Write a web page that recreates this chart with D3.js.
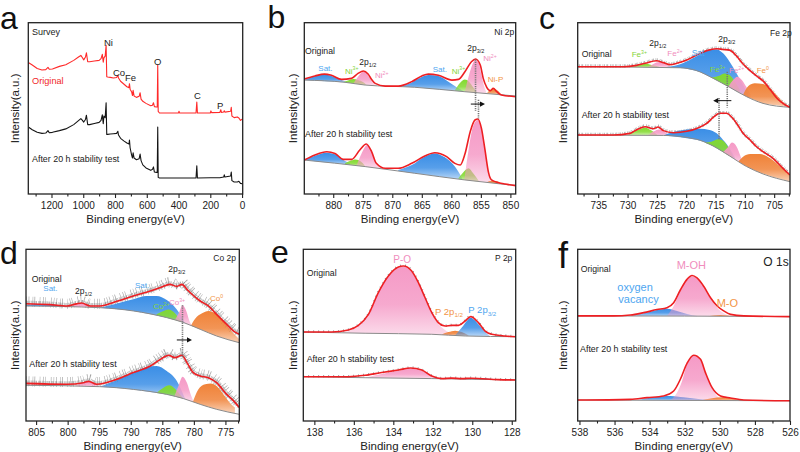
<!DOCTYPE html>
<html><head><meta charset="utf-8">
<script src="https://cdn.jsdelivr.net/npm/d3@7"></script>
<style>body{margin:0;background:#fff} svg{display:block} text{font-family:"Liberation Sans",Arial,sans-serif}</style>
</head><body><svg id="c" width="800" height="452"></svg>
<script>
// ---------------- DATA ----------------
// Panel a: survey [binding energy eV, intensity a.u.]
const surveyOriginal = [[1346,76.8],[1321,75.3],[1290,73.3],[1260,72.4],[1236,72.6],[1222,73.9],[1214,72.8],[1194,73.0],[1150,74.5],[1110,75.5],[1060,78.0],[1030,80.0],[1015,80.9],[1005,79.5],[997,78.3],[986,80.0],[980,82.4],[972,77.2],[960,77.2],[930,77.6],[900,78.0],[888,79.0],[880,81.5],[874,77.0],[870,79.5],[862,80.5],[856,86.8],[852,68.5],[846,68.3],[830,68.1],[810,67.7],[790,68.0],[782,69.3],[778,67.7],[765,65.8],[745,64.2],[725,62.6],[712,62.1],[709,64.4],[705,61.2],[695,59.5],[690,57.5],[686,60.5],[680,57.2],[665,56.4],[648,57.0],[642,59.1],[636,55.4],[625,54.1],[605,52.9],[575,51.5],[564,51.8],[558,53.3],[552,51.0],[540,50.8],[534,50.8],[531,75.3],[528,48.2],[520,47.3],[400,47.3],[397,48.3],[394,47.3],[290,47.3],[285,53.7],[281,47.3],[200,47.3],[196,48.5],[192,47.5],[140,47.6],[134,49.2],[130,47.6],[116,47.9],[112,48.6],[108,47.8],[72,48.3],[68,50.6],[64,45.5],[50,44.6],[30,45.0],[20,44.4],[10,43.0],[0,43.6],[-4,43.2]];
const surveyAfter = [[1346,39.1],[1321,37.5],[1290,36.0],[1260,35.4],[1236,35.6],[1222,37.0],[1214,35.8],[1194,36.0],[1150,37.0],[1110,38.0],[1060,40.5],[1030,42.8],[1015,44.0],[1005,43.0],[997,42.0],[986,43.5],[980,46.0],[972,40.5],[960,40.5],[930,41.2],[900,41.8],[888,43.0],[880,46.2],[874,41.0],[870,45.5],[862,44.5],[856,53.3],[852,34.8],[846,34.8],[830,35.0],[810,35.2],[790,35.4],[782,36.6],[778,34.4],[765,32.5],[745,31.0],[725,29.8],[712,29.2],[709,31.5],[705,27.0],[695,22.5],[690,21.0],[686,24.0],[680,21.0],[665,20.0],[648,20.6],[642,23.3],[636,19.5],[625,17.0],[605,15.2],[575,13.8],[564,14.4],[558,15.8],[552,12.8],[540,12.6],[534,12.6],[531,39.1],[528,9.7],[520,9.3],[400,9.3],[290,9.3],[285,16.5],[281,9.3],[200,9.5],[140,9.5],[116,9.9],[112,11.2],[108,9.9],[72,10.5],[68,12.8],[64,7.8],[50,7.0],[30,7.0],[20,7.4],[10,6.2],[0,6.0],[-4,5.8]];

// Panel b: Ni 2p
const niOrigBg = [[884.9,66.5],[878.0,65.2],[874.6,63.6],[866.2,62.3],[857.7,59.7],[849.1,57.2]];
const niOrigEnv = [[884.9,67.1],[883.1,68.9],[881.5,70.0],[880.3,69.3],[878.6,66.9],[876.9,67.5],[875.8,70.4],[874.9,71.8],[874.1,70.0],[873.5,66.9],[872.9,64.6],[871.2,63.0],[869.0,63.0],[866.7,65.6],[865.0,68.9],[863.9,70.0],[862.2,69.3],[859.9,66.5],[858.8,66.9],[857.7,71.4],[856.6,77.2],[855.9,78.8],[855.1,75.3],[854.6,67.5],[854.0,62.3],[853.4,60.3],[852.9,61.7],[852.3,59.7],[851.5,57.8],[849.1,56.8]];
const niOrigComps = [
 ["Sat", [[884.9,66.5],[883.7,68.1],[882.5,69.3],[881.5,69.6],[880.3,68.9],[879.2,67.3],[878.0,65.8],[877.2,65.0]]],
 ["Ni3+", [[878.3,65.3],[877.5,66.3],[876.6,67.1],[875.8,66.5],[874.9,65.2],[874.4,63.8]]],
 ["Ni2+", [[876.6,64.5],[875.8,68.5],[874.9,71.4],[874.4,70.8],[873.8,67.5],[873.2,64.6],[872.7,63.3]]],
 ["Sat", [[869.0,62.8],[867.3,64.2],[865.6,67.3],[863.9,69.5],[862.2,68.9],[860.5,65.6],[859.1,62.3],[858.0,60.2]]],
 ["Ni3+", [[859.4,60.5],[858.5,65.0],[857.7,66.9],[857.0,65.6],[856.3,62.3],[855.7,59.3]]],
 ["Ni2+", [[857.7,59.9],[857.0,69.5],[856.4,75.9],[855.9,78.2],[855.3,75.9],[854.9,69.5],[854.4,62.3],[854.0,58.8]]],
 ["Ni-P", [[854.0,58.6],[853.6,60.3],[852.9,61.5],[852.1,60.3],[851.5,57.9]]]
];
const niAfterBg = [[884.9,19.8],[874.6,16.0],[866.2,12.1],[857.7,8.2],[852.0,6.0],[849.1,5.0]];
const niAfterEnv = [[884.9,19.8],[883.1,22.8],[881.1,24.7],[879.7,23.7],[878.3,20.2],[876.9,20.2],[875.5,25.7],[874.4,29.2],[873.5,24.7],[872.7,17.9],[871.2,15.0],[869.0,15.0],[866.7,17.9],[864.5,22.2],[862.8,24.1],[860.8,21.8],[859.4,17.9],[858.5,16.9],[857.7,23.3],[856.8,36.4],[856.0,43.2],[855.5,43.8],[854.9,38.3],[854.3,25.7],[853.7,12.5],[853.2,8.2],[852.0,6.6],[850.9,5.8],[849.1,4.9]];
const niAfterComps = [
 ["Sat", [[884.9,19.8],[883.1,22.4],[881.1,24.1],[879.7,23.2],[878.3,19.8],[877.2,17.9]]],
 ["Ni3+", [[878.0,18.0],[877.0,19.5],[876.2,20.2],[875.3,18.9],[874.6,16.2]]],
 ["Ni2+", [[876.0,17.2],[875.2,23.7],[874.2,28.8],[873.5,24.7],[872.8,18.9],[872.1,15.6]]],
 ["Sat", [[869.0,14.0],[866.7,16.9],[864.5,21.8],[862.8,23.7],[861.1,21.4],[859.4,16.0],[858.2,9.4]]],
 ["Ni3+", [[858.8,9.2],[858.0,12.5],[857.1,15.0],[856.3,12.1],[855.4,7.9]]],
 ["Ni2+", [[857.8,8.3],[857.0,27.6],[856.3,39.7],[855.5,43.2],[854.9,38.3],[854.3,25.7],[853.7,12.1],[853.3,7.2]]],
 ["Ni-P", [[854.0,6.9],[853.2,7.6],[852.5,7.6],[851.5,6.0]]]
];
const niGuides = [[855.9,78.5,48.5],[855.4,55.0,43.5]];
const niArrow = [856.7,854.3,52.5];

// Panel c: Fe 2p
const feOrigBg = [[738.5,74.3],[721.1,73.7],[718.2,72.0],[715.4,67.5],[712.6,62.3],[709.7,56.8],[706.9,52.9],[702.3,50.6]];
const feOrigEnv = [[738.5,74.3],[730.7,74.3],[728.5,75.1],[727.0,76.3],[725.1,77.8],[723.9,76.7],[722.8,75.5],[721.6,76.3],[719.9,78.2],[718.2,81.1],[716.5,83.7],[714.8,84.8],[713.7,84.4],[712.6,84.0],[711.4,80.5],[710.3,75.9],[709.1,72.0],[708.0,68.9],[706.9,66.0],[705.7,61.1],[704.6,56.2],[703.5,52.9],[702.3,50.6]];
const feOrigComps = [
 ["Fe3+", [[729.6,74.2],[728.2,75.3],[726.8,76.1],[725.6,75.1],[724.5,74.1]]],
 ["Fe2+", [[726.5,74.1],[725.6,75.9],[724.6,77.0],[723.6,75.7],[722.5,74.0]]],
 ["Sat", [[723.9,73.9],[721.6,75.1],[719.4,78.2],[717.7,81.5],[716.0,84.0],[714.8,84.4],[713.7,82.1],[712.6,77.2],[711.4,70.4],[710.3,63.6],[709.4,58.2]]],
 ["Fe3+", [[715.7,68.0],[714.5,68.9],[713.4,70.4],[712.6,69.5],[711.7,65.6],[710.9,61.1]]],
 ["Fe2+", [[712.8,62.7],[712.0,66.5],[711.3,68.5],[710.6,66.9],[709.7,62.3],[709.0,57.8]]],
 ["Fe0", [[710.3,58.0],[709.4,63.0],[708.3,64.6],[706.9,64.2],[705.7,61.7],[704.6,57.8],[703.5,53.9],[702.3,51.0]]]
];
const feAfterBg = [[738.5,34.4],[723.9,34.2],[718.2,31.9],[715.4,28.0],[712.6,22.2],[709.7,16.0],[706.9,11.7],[702.3,7.2]];
const feAfterEnv = [[738.5,34.4],[732.4,34.4],[729.6,35.4],[728.5,37.4],[727.0,39.3],[725.6,38.1],[724.8,39.1],[723.9,37.0],[722.2,35.8],[719.9,36.6],[718.2,38.3],[716.5,41.2],[715.4,44.7],[714.3,47.1],[713.1,47.1],[712.3,45.1],[711.4,41.2],[710.3,35.4],[709.1,31.5],[708.0,27.6],[706.9,24.7],[705.2,20.8],[703.5,15.0],[702.3,11.1]];
const feAfterComps = [
 ["Fe3+", [[729.9,34.4],[728.5,37.0],[727.0,38.7],[725.9,37.0],[724.8,34.2]]],
 ["Fe2+", [[726.5,34.2],[725.5,36.6],[724.6,37.7],[723.6,36.2],[722.8,34.1]]],
 ["Sat", [[723.9,34.2],[722.2,36.2],[719.9,37.7],[717.7,38.1],[716.0,37.4],[714.8,35.4],[713.7,31.5],[712.6,26.7],[711.7,21.2]]],
 ["Fe3+", [[716.8,30.0],[715.7,30.5],[714.5,31.9],[713.4,30.0],[712.6,25.7],[711.9,20.8]]],
 ["Fe2+", [[713.7,24.5],[712.8,27.6],[712.2,30.0],[711.4,27.6],[710.7,21.8],[710.2,17.0]]],
 ["Fe0", [[711.1,19.0],[710.3,21.8],[709.1,23.3],[707.4,23.3],[705.7,20.8],[704.0,16.0],[702.3,11.1]]]
];
const feGuides = [[713.0,71.4,50.5],[714.4,56.0,31.5]];
const feArrow = [712.3,715.4,54.5];

// Panel d: Co 2p
const coOrigBg = [[806.6,67.0],[794.9,66.0],[789.6,64.1],[784.3,60.2],[781.6,57.3],[779.0,53.4],[776.4,49.5],[772.8,45.6]];
const coOrigEnv = [[806.6,68.3],[802.8,67.8],[800.1,67.0],[798.6,68.2],[797.8,68.7],[796.4,67.0],[794.9,67.0],[792.2,69.7],[789.6,72.8],[786.9,75.7],[785.3,77.7],[783.8,79.6],[782.7,78.4],[781.9,79.6],[781.1,76.7],[780.3,73.8],[779.0,69.9],[777.7,67.0],[776.4,62.1],[774.8,56.3],[773.7,52.4],[772.8,50.5]];
const coOrigComps = [
 ["Sat", [[806.6,67.4],[804.4,68.2],[802.3,67.8],[800.1,66.6]]],
 ["Co3+", [[799.6,66.4],[798.6,67.8],[797.8,68.5],[796.7,67.4],[795.6,66.2]]],
 ["Sat", [[794.9,66.0],[792.2,68.5],[789.6,70.9],[787.5,72.8],[785.9,72.8],[784.3,70.5],[782.7,65.0],[781.4,57.0]]],
 ["Co2+", [[785.9,62.2],[784.8,64.1],[784.0,65.0],[783.2,63.5],[782.2,59.2],[781.6,57.3]]],
 ["Co3+", [[783.0,58.8],[782.3,63.5],[781.8,67.4],[781.2,64.1],[780.7,58.3],[780.2,55.3]]],
 ["Co0", [[780.5,55.4],[779.8,59.6],[778.7,62.7],[777.7,64.1],[776.6,62.7],[775.6,59.2],[774.3,53.4],[772.8,47.6]]]
];
const coAfterBg = [[806.6,20.8],[794.9,20.0],[789.6,18.4],[784.3,15.5],[781.6,13.0],[779.0,9.7],[776.4,6.8],[772.8,3.9]];
const coAfterEnv = [[806.6,21.9],[800.1,21.4],[797.5,22.3],[796.7,23.1],[795.4,21.4],[792.2,24.3],[789.6,28.2],[786.9,32.0],[785.3,35.9],[784.0,38.3],[783.0,36.9],[781.9,38.3],[781.1,34.0],[780.1,28.2],[779.0,26.2],[777.7,25.2],[776.4,22.3],[774.8,15.5],[773.7,11.7],[772.8,7.8]];
const coAfterComps = [
 ["Co3+", [[798.8,20.4],[797.8,21.9],[796.7,22.7],[795.8,21.7],[794.9,20.0]]],
 ["Sat", [[794.9,20.0],[792.2,23.9],[789.6,28.2],[787.5,31.3],[785.9,32.0],[784.3,29.1],[782.7,23.3],[781.4,13.0]]],
 ["Co2+", [[785.9,16.4],[784.8,19.4],[783.9,20.8],[783.0,18.8],[782.2,15.5],[781.6,13.0]]],
 ["Co3+", [[783.1,14.2],[782.4,20.8],[781.8,25.8],[781.1,22.3],[780.5,15.5],[780.0,11.1]]],
 ["Co0", [[780.2,10.8],[779.3,18.4],[778.2,21.4],[777.3,21.9],[776.4,20.4],[775.3,15.5],[774.3,10.7],[773.5,7.8]]]
];
const coGuides = [[781.8,67.4,37.0]];
const coArrow = [782.7,780.3,47.2];

// Panel e: P 2p
const pOrigBg = [[138.56,51.8],[135.43,51.1],[132.05,50.5],[130.36,49.5],[127.8,49.1]];
const pOrigEnv = [[138.56,51.8],[137.12,51.8],[136.28,53.0],[135.77,55.7],[135.26,62.1],[134.76,74.8],[134.25,84.5],[133.74,89.7],[133.49,90.3],[133.07,87.4],[132.73,80.6],[132.39,71.8],[132.05,63.1],[131.72,57.3],[131.38,55.3],[131.04,55.7],[130.70,55.7],[130.36,58.3],[130.08,60.8],[129.69,57.3],[129.35,52.4],[129.01,50.5],[128.34,49.5],[127.8,49.1]];
const pOrigComps = [
 ["P-O", [[136.61,51.5],[135.77,55.3],[135.26,61.9],[134.76,74.4],[134.25,84.1],[133.74,89.3],[133.49,89.9],[133.07,86.8],[132.73,80.2],[132.39,71.3],[132.05,62.7],[131.72,56.7],[131.38,53.0],[131.04,50.9]]],
 ["P 2p1/2", [[131.55,50.4],[131.21,51.8],[130.87,52.6],[130.53,51.8],[130.20,49.9]]],
 ["P 2p3/2", [[130.87,50.0],[130.53,54.4],[130.28,58.3],[130.08,60.2],[129.86,58.6],[129.61,55.3],[129.35,51.8],[129.10,49.4]]]
];
const pAfterBg = [[138.56,25.8],[135.43,25.2],[132.05,24.7],[127.8,23.9]];
const pAfterEnv = [[138.56,25.8],[136.28,25.8],[135.43,26.6],[134.59,28.2],[133.74,29.7],[133.12,30.9],[132.56,29.7],[132.05,26.2],[131.55,24.7],[131.04,25.0],[130.53,24.7],[130.03,24.9],[128.68,24.1],[127.8,23.9]];
const pAfterComps = [
 ["P-O", [[135.43,25.2],[134.59,27.4],[133.74,29.3],[133.12,30.5],[132.56,29.3],[132.05,26.2],[131.55,24.6]]],
 ["P 2p1/2", [[131.38,24.5],[130.87,25.0],[130.36,24.4]]],
 ["P 2p3/2", [[131.04,24.5],[130.36,24.9],[129.69,24.9],[128.68,24.1]]]
];

// Panel f: O 1s
const oOrigBg = [[538.1,61.2],[532.0,61.1],[526.0,60.8]];
const oOrigEnv = [[538.1,61.2],[536.06,61.2],[535.10,61.7],[534.34,63.1],[533.58,64.9],[533.01,66.0],[532.63,68.9],[532.25,76.3],[531.87,82.5],[531.58,84.7],[531.30,83.3],[530.91,78.3],[530.53,71.8],[530.15,67.0],[529.77,64.1],[529.39,62.1],[528.63,61.2],[526.0,60.8]];
const oOrigComps = [
 ["oxygen vacancy", [[535.10,61.2],[534.34,62.7],[533.58,64.7],[533.01,65.4],[532.44,64.1],[531.87,62.3],[531.30,61.1]]],
 ["M-OH", [[533.01,61.2],[532.63,67.0],[532.25,75.7],[531.87,82.1],[531.58,84.1],[531.30,82.9],[530.91,77.7],[530.53,71.3],[530.15,66.0],[529.77,62.7],[529.39,61.0]]],
 ["M-O", [[530.72,61.0],[529.96,61.7],[529.20,61.0]]]
];
const oAfterBg = [[538.1,12.2],[526.0,11.8]];
const oAfterEnv = [[538.1,12.2],[535.10,12.6],[534.15,13.6],[533.20,14.6],[532.63,17.5],[532.25,24.3],[531.87,33.6],[531.49,38.3],[531.10,35.9],[530.82,28.2],[530.44,19.4],[529.96,14.6],[529.39,13.4],[528.63,12.2],[526.0,11.8]];
const oAfterComps = [
 ["oxygen vacancy", [[534.72,12.1],[533.77,13.8],[532.82,14.6],[532.06,13.8],[531.10,12.6],[530.53,12.0]]],
 ["M-OH", [[532.82,12.1],[532.44,16.5],[532.15,23.3],[531.87,33.0],[531.49,37.9],[531.10,35.5],[530.82,27.8],[530.44,18.8],[530.06,13.6],[529.77,12.0]]],
 ["M-O", [[531.10,12.0],[530.44,13.2],[529.87,13.8],[529.20,13.0],[528.63,11.9]]]
];

// Tick values
const ticksA = [1200,1000,800,600,400,200,0], minorA = [1300,1100,900,700,500,300,100];
const ticksB = [880,875,870,865,860,855,850], minorB = [882.5,877.5,872.5,867.5,862.5,857.5,852.5];
const ticksC = [735,730,725,720,715,710,705], minorC = [737.5,732.5,727.5,722.5,717.5,712.5,707.5,702.5];
const ticksD = [805,800,795,790,785,780,775], minorD = [802.5,797.5,792.5,787.5,782.5,777.5,773];
const ticksE = [138,136,134,132,130,128], minorE = [137,135,133,131,129];
const ticksF = [538,536,534,532,530,528,526], minorF = [537,535,533,531,529,527];

// ---------------- DRAWING ----------------
const svg = d3.select('#c');
const defs = svg.append('defs');
const FILL = {blue:'#3a8ee6', green:'#82d92e', pink:'#f59ac6', orange:'#f08238'};
const TXT = {k:'#222', blue:'#4ea6f0', green:'#86d43a', pink:'#f08dbd', orange:'#f29446', red:'#f0282a'};
const KIND = {"Sat":"blue","Ni3+":"green","Ni2+":"pink","Ni-P":"orange","Fe3+":"green","Fe2+":"pink","Fe0":"orange",
  "Co2+":"green","Co3+":"pink","Co0":"orange","P-O":"pink","P 2p1/2":"orange","P 2p3/2":"blue",
  "oxygen vacancy":"blue","M-OH":"pink","M-O":"orange"};
let gid = 0;
function grad(color){
  const id = 'gr'+(gid++);
  const lg = defs.append('linearGradient').attr('id',id).attr('x1',0).attr('y1',0).attr('x2',0).attr('y2',1);
  lg.append('stop').attr('offset','0%').attr('stop-color',color).attr('stop-opacity',1);
  lg.append('stop').attr('offset','55%').attr('stop-color',color).attr('stop-opacity',0.85);
  lg.append('stop').attr('offset','100%').attr('stop-color',color).attr('stop-opacity',0.35);
  return `url(#${id})`;
}
function bgAt(bg,E){
  for(let i=0;i<bg.length-1;i++){
    const [e0,v0]=bg[i],[e1,v1]=bg[i+1];
    if(E<=e0 && E>=e1) return v0+(v1-v0)*(E-e0)/(e1-e0);
  }
  return E>bg[0][0]?bg[0][1]:bg[bg.length-1][1];
}
function rich(str,x,y,color,size,anchor){
  const t = svg.append('text').attr('x',x).attr('y',y).attr('fill',color).attr('font-size',size).attr('text-anchor',anchor||'start');
  const parts = str.split(/(\^\{[^}]*\}|_\{[^}]*\})/).filter(s=>s.length);
  let cur = 0;
  parts.forEach(p=>{
    let target=0, fs=size, txt=p;
    if(p.startsWith('^{')){ target=-size*0.4; fs=size*0.65; txt=p.slice(2,-1); }
    else if(p.startsWith('_{')){ target=size*0.25; fs=size*0.65; txt=p.slice(2,-1); }
    t.append('tspan').attr('dy',target-cur).attr('font-size',fs).text(txt);
    cur = target;
  });
  return t;
}

function panel(p){
  const x = d3.scaleLinear().domain(p.dom).range([p.l,p.r]);
  const y = d3.scaleLinear().domain([0,100]).range([p.b,p.t]);
  const cid = 'clip'+p.id;
  defs.append('clipPath').attr('id',cid).append('rect').attr('x',p.l).attr('y',p.t).attr('width',p.r-p.l).attr('height',p.b-p.t);
  const g = svg.append('g').attr('clip-path',`url(#${cid})`);
  const line = d3.line().x(d=>x(d[0])).y(d=>y(d[1])).curve(d3.curveMonotoneX);
  (p.spectra||[]).forEach(s=>{
    // measured-signal texture (raw counts), drawn as irregular gray strokes along the fit
    (p.noise||[]).forEach(n=>{
      g.append('path').attr('d',line(s.env)).attr('fill','none').attr('stroke','#707070')
        .attr('stroke-width',n.w).attr('stroke-dasharray',n.dash).attr('opacity',n.op)
        .attr('transform',`translate(0,${n.dy})`);
    });
    s.comps.forEach(([name,pts])=>{
      const area = d3.area().x(d=>x(d[0])).y0(d=>y(bgAt(s.bg,d[0]))).y1(d=>y(d[1])).curve(d3.curveMonotoneX);
      g.append('path').attr('d',area(pts)).attr('fill',grad(FILL[KIND[name]]));
    });
    g.append('path').attr('d',line(s.bg)).attr('fill','none').attr('stroke','#8a8a8a').attr('stroke-width',1);
    g.append('path').attr('d',line(s.env)).attr('fill','none').attr('stroke','#ee1f23').attr('stroke-width',1.6);
  });
  (p.lines||[]).forEach(s=>{
    const ln = d3.line().x(d=>x(d[0])).y(d=>y(d[1]));
    g.append('path').attr('d',ln(s.data)).attr('fill','none').attr('stroke',s.color).attr('stroke-width',1.1).attr('stroke-linejoin','round');
  });
  (p.guides||[]).forEach(([e,v0,v1])=>{
    g.append('line').attr('x1',x(e)).attr('x2',x(e)).attr('y1',y(v0)).attr('y2',y(v1))
      .attr('stroke','#777').attr('stroke-width',1.6).attr('stroke-dasharray','1.2,1');
  });
  if(p.arrow){
    const [e0,e1,v]=p.arrow, x0=x(e0), x1=x(e1), yy=y(v), dir=Math.sign(x1-x0);
    g.append('line').attr('x1',x0).attr('x2',x1-dir*4).attr('y1',yy).attr('y2',yy).attr('stroke','#111').attr('stroke-width',1);
    g.append('path').attr('d',`M${x1},${yy}L${x1-dir*5},${yy-2.6}L${x1-dir*5},${yy+2.6}Z`).attr('fill','#111');
  }
  svg.append('rect').attr('x',p.l).attr('y',p.t).attr('width',p.r-p.l).attr('height',p.b-p.t)
    .attr('fill','none').attr('stroke','#222').attr('stroke-width',1.3);
  const gm = svg.append('g').attr('transform',`translate(0,${p.b})`)
    .call(d3.axisBottom(x).tickValues(p.minor).tickSize(2.5).tickFormat(''));
  gm.select('.domain').remove();
  const ga = svg.append('g').attr('transform',`translate(0,${p.b})`)
    .call(d3.axisBottom(x).tickValues(p.ticks).tickSize(4).tickPadding(3.5).tickFormat(d3.format('d')));
  ga.select('.domain').remove();
  [gm,ga].forEach(a=>{ a.selectAll('line').attr('stroke','#222').attr('stroke-width',1.1); });
  ga.selectAll('text').attr('font-size',10).attr('fill','#222').attr('font-family','"Liberation Sans",Arial,sans-serif');
  svg.append('text').attr('x',(p.l+p.r)/2).attr('y',p.b+29).attr('text-anchor','middle')
    .attr('font-size',11.5).attr('fill','#222').text('Binding energy(eV)');
  svg.append('text').attr('transform',`translate(${p.yt},${(p.t+p.b)/2}) rotate(-90)`).attr('text-anchor','middle')
    .attr('dominant-baseline','central').attr('font-size',11.5).attr('fill','#222').text('Intensity(a.u.)');
  svg.append('text').attr('x',p.letter[1]).attr('y',p.letter[2]).attr('font-size',p.letter[3]||32).attr('fill','#111').text(p.letter[0]);
  (p.labels||[]).forEach(([s,lx,ly,c,fs])=>rich(s,lx,ly,TXT[c],fs));
}

const R1 = {t:22.7,b:194}, R2 = {t:249.3,b:421};
panel({id:'a', l:28.3, r:242.7, ...R1, dom:[1346,-4], ticks:ticksA, minor:minorA, yt:15, letter:['a',0,29.3],
  lines:[{data:surveyOriginal,color:'#ff2a2a'},{data:surveyAfter,color:'#151515'}],
  labels:[["Survey",32,34.5,'k',9],["Ni",104,45.5,'k',9.5],["Co",113,75.5,'k',9.5],["Fe",125,80.5,'k',9.5],
    ["O",154,65,'k',9.5],["C",194,99,'k',9.5],["P",217,109,'k',9.5],["Original",32,83.5,'red',9.2],
    ["After 20 h stability test",32,161.5,'k',8.9]]});
panel({id:'b', l:304.3, r:515.7, ...R1, dom:[884.9,849.1], ticks:ticksB, minor:minorB, yt:293, letter:['b',267.5,28.3],
  spectra:[{bg:niOrigBg,env:niOrigEnv,comps:niOrigComps},{bg:niAfterBg,env:niAfterEnv,comps:niAfterComps}],
  guides:niGuides, arrow:niArrow,
  labels:[["Ni 2p",494.3,35,'k',8.5],["Original",305,53.7,'k',8.7],["Sat.",318.3,71,'blue',8],["Ni^{3+}",345,73.5,'green',8],
    ["2p_{1/2}",359.3,64.5,'k',8.5],["Ni^{2+}",375,78,'pink',8],["Sat.",432.7,72,'blue',8],["Ni^{3+}",451.7,73.5,'green',8],
    ["2p_{3/2}",467.3,51,'k',8.5],["Ni^{2+}",483.3,61,'pink',8],["Ni-P",487.7,82,'orange',8],
    ["After 20 h stability test",305,136.5,'k',8.9]]});
panel({id:'c', l:577.7, r:790, ...R1, dom:[738.5,702.3], ticks:ticksC, minor:minorC, yt:563, letter:['c',539,28.7],
  noise:[{w:3.4, dy:-0.7, op:0.75, dash:'0.5,0.9,0.6,1.6,0.4,0.7,0.7,2.1,0.5,1.1,0.6,0.6,0.4,1.8'}],
  spectra:[{bg:feOrigBg,env:feOrigEnv,comps:feOrigComps},{bg:feAfterBg,env:feAfterEnv,comps:feAfterComps}],
  guides:feGuides, arrow:feArrow,
  labels:[["Fe 2p",770,35.5,'k',8.5],["2p_{1/2}",649.3,45.5,'k',8.5],["2p_{3/2}",718.3,42,'k',8.5],["Original",581.7,57.3,'k',8.7],
    ["Fe^{3+}",631.7,57,'green',8],["Fe^{2+}",667.3,56.3,'pink',8],["Sat",691.7,55.7,'blue',8.5],["Fe^{3+}",710,72.3,'green',8],
    ["Fe^{2+}",729,73,'pink',8],["Fe^{0}",756.7,73,'orange',8],["After 20 h stability test",581.7,118,'k',8.9]]});
panel({id:'d', l:26, r:239.3, ...R2, dom:[806.6,772.8], ticks:ticksD, minor:minorD, yt:15, letter:['d',0,264.3],
  noise:[{w:4.5, dy:-0.8, op:0.7, dash:'0.5,0.6,0.6,0.9,0.4,0.5,0.7,1.2,0.5,0.7'},
         {w:10, dy:-2.2, op:0.65, dash:'0.5,2.1,0.6,3.4,0.5,1.3,0.7,4.6,0.5,2.7,0.6,1.6,0.5,5.2,0.6,2.2'}],
  spectra:[{bg:coOrigBg,env:coOrigEnv,comps:coOrigComps},{bg:coAfterBg,env:coAfterEnv,comps:coAfterComps}],
  guides:coGuides, arrow:coArrow,
  labels:[["Co 2p",213.3,260.7,'k',8.5],["Original",31.7,281.7,'k',8.7],["Sat.",43.3,291.3,'blue',8],["2p_{1/2}",75,294,'k',8.5],
    ["Sat.",135,288.3,'blue',8],["2p_{3/2}",168.3,272.3,'k',8.5],["Co^{2+}",153.3,309,'green',8],["Co^{3+}",169,305,'pink',8],
    ["Co^{0}",210,300.7,'orange',8],["After 20 h stability test",29.3,367.3,'k',8.9]]});
panel({id:'e', l:303.3, r:515.7, ...R2, dom:[138.56,127.8], ticks:ticksE, minor:minorE, yt:293, letter:['e',271,262.7],
  noise:[{w:2.6, dy:-0.4, op:0.8, dash:'0.8,4.2'}],
  spectra:[{bg:pOrigBg,env:pOrigEnv,comps:pOrigComps},{bg:pAfterBg,env:pAfterEnv,comps:pAfterComps}],
  labels:[["P 2p",495,260.7,'k',8.5],["P-O",393.3,263.3,'pink',10],["Original",306.7,275.7,'k',8.7],
    ["P 2p_{1/2}",435,315,'orange',9.5],["P 2p_{3/2}",468.3,313.3,'blue',9.5],["After 20 h stability test",306.7,362.3,'k',8.9]]});
panel({id:'f', l:577.7, r:790, ...R2, dom:[538.1,526], ticks:ticksF, minor:minorF, yt:563, letter:['f',558,267.7,36],
  spectra:[{bg:oOrigBg,env:oOrigEnv,comps:oOrigComps},{bg:oAfterBg,env:oAfterEnv,comps:oAfterComps}],
  labels:[["O 1s",763.3,265.5,'k',12],["Original",580.7,272.3,'k',8.7],["M-OH",676.7,269.3,'pink',11],
    ["oxygen",617.3,291,'blue',11],["vacancy",618.3,303.3,'blue',11],["M-O",716.7,306.7,'orange',11],
    ["After 20 h stability test",580,352.3,'k',8.9]]});
</script>
</body></html>
